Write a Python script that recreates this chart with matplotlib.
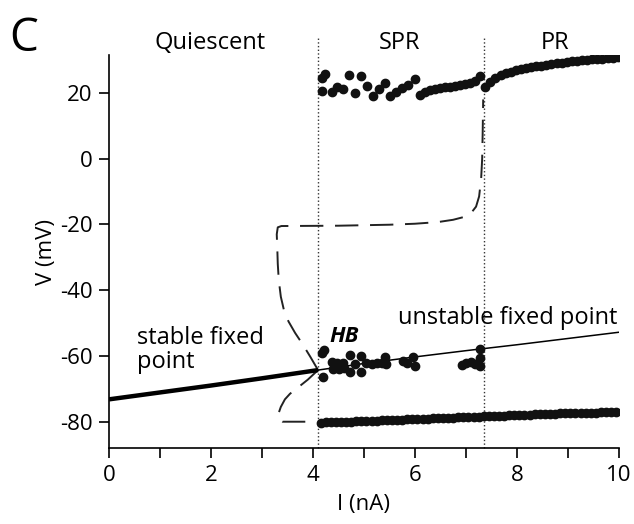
import matplotlib
matplotlib.use("Agg")
import matplotlib.pyplot as plt

plt.rcParams['font.family'] = ['Open Sans', 'DejaVu Sans']
plt.rcParams['axes.unicode_minus'] = False

# fixed point branches (I in nA, V in mV)
stable_I = [0.0, 1.0, 2.0, 3.0, 4.1]
stable_V = [-73.2, -71.1, -69.0, -66.8, -64.3]
unstable_I = [4.1, 5.0, 6.0, 7.0, 8.0, 9.0, 10.0]
unstable_V = [-64.3, -62.3, -60.3, -58.4, -56.6, -54.7, -52.8]

# unstable limit cycle (dashed), upper and lower extrema
ulc_top_I = [4.1, 3.95, 3.8, 3.65, 3.52, 3.43, 3.37, 3.33, 3.31, 3.30, 3.29, 3.31, 3.38,
             4.5, 5.5, 6.0, 6.45, 6.75, 6.95, 7.1, 7.2, 7.26, 7.3, 7.32, 7.33, 7.34]
ulc_top_V = [-64.3, -60.3, -56.5, -53.0, -49.5, -46.0, -42.0, -37.0, -32.0, -27.0, -23.0, -20.9, -20.5,
             -20.4, -20.1, -19.8, -19.3, -18.6, -17.8, -16.6, -14.6, -11.5, -6.0, 0.0, 8.0, 18.0]
ulc_bot_I = [4.1, 3.9, 3.69, 3.55, 3.45, 3.37, 3.32, 3.33, 3.4, 3.85]
ulc_bot_V = [-64.3, -67.2, -69.8, -71.5, -73.2, -75.5, -77.7, -79.3, -80.0, -80.0]

# SPR spike maxima (irregular)
spr_max_I = [4.17, 4.24, 4.17, 4.37, 4.48, 4.59, 4.71, 4.82, 4.95, 5.07, 5.18, 5.30, 5.41, 5.52,
             5.63, 5.74, 5.87, 6.00, 6.11, 6.20, 6.29, 6.39, 6.49, 6.59, 6.69, 6.78, 6.88, 6.98,
             7.08, 7.18, 7.27]
spr_max_V = [24.5, 25.8, 20.6, 20.4, 21.7, 21.1, 25.3, 19.9, 25.0, 22.1, 18.9, 21.1, 23.1, 19.1,
             20.2, 21.4, 22.4, 24.2, 19.4, 20.4, 20.9, 21.2, 21.4, 21.7, 21.9, 22.1, 22.3, 22.6,
             22.9, 23.6, 25.0]

# SPR subthreshold oscillation extrema
spr_mid_I = [4.17, 4.22, 4.20, 4.37, 4.40, 4.48, 4.52, 4.58, 4.61, 4.73, 4.73, 4.82, 4.95, 4.95,
             5.05, 5.15, 5.25, 5.35, 5.41, 5.43, 5.77, 5.85, 5.97, 6.00, 6.92, 7.01, 7.11, 7.18,
             7.27, 7.27, 7.27]
spr_mid_V = [-59.0, -58.2, -66.5, -61.7, -64.0, -62.2, -64.0, -62.0, -63.7, -59.7, -64.9, -62.4,
             -60.0, -64.8, -62.0, -62.4, -62.0, -62.2, -60.4, -62.4, -61.4, -62.2, -60.2, -63.0,
             -62.7, -62.2, -61.7, -62.4, -58.0, -60.5, -63.2]

# spike minima (SPR + PR)
low_I = [4.15, 4.25, 4.35, 4.45, 4.55, 4.65, 4.75, 4.85, 4.95, 5.05,
         5.15, 5.25, 5.35, 5.45, 5.55, 5.65, 5.75, 5.85, 5.95, 6.05,
         6.15, 6.25, 6.35, 6.45, 6.55, 6.65, 6.75, 6.85, 6.95, 7.05,
         7.15, 7.25, 7.35, 7.45, 7.55, 7.65, 7.75, 7.85, 7.95, 8.05,
         8.15, 8.25, 8.35, 8.45, 8.55, 8.65, 8.75, 8.85, 8.95, 9.05,
         9.15, 9.25, 9.35, 9.45, 9.55, 9.65, 9.75, 9.85, 9.95]
low_V = [-80.3, -80.2, -80.2, -80.1, -80.1, -80.0, -80.0, -79.9, -79.9, -79.8,
         -79.7, -79.7, -79.6, -79.6, -79.5, -79.5, -79.4, -79.3, -79.3, -79.2,
         -79.2, -79.1, -79.0, -79.0, -78.9, -78.9, -78.8, -78.7, -78.7, -78.6,
         -78.6, -78.5, -78.4, -78.4, -78.3, -78.3, -78.2, -78.1, -78.1, -78.0,
         -78.0, -77.9, -77.8, -77.8, -77.7, -77.7, -77.6, -77.5, -77.5, -77.4,
         -77.4, -77.3, -77.3, -77.2, -77.2, -77.1, -77.1, -77.0, -77.0]

# PR spike maxima
pr_I = [7.38, 7.48, 7.58, 7.68, 7.78, 7.88, 7.98, 8.08, 8.18, 8.28, 8.38, 8.48, 8.58, 8.68,
        8.78, 8.88, 8.98, 9.08, 9.18, 9.28, 9.38, 9.48, 9.58, 9.68, 9.78, 9.88, 9.98]
pr_V = [21.8, 23.4, 24.5, 25.3, 25.9, 26.4, 26.8, 27.2, 27.5, 27.8, 28.1, 28.3, 28.6, 28.8,
        29.0, 29.2, 29.4, 29.6, 29.7, 29.9, 30.0, 30.2, 30.3, 30.4, 30.6, 30.7, 30.8]

boundaries = [4.1, 7.35]
regions = ["Quiescent", "SPR", "PR"]

fig = plt.figure(figsize=(6.34, 5.24), dpi=100)
ax = fig.add_axes([0.172, 0.145, 0.804, 0.75])

for b in boundaries:
    ax.plot([b, b], [-88, 37.3], ':', color='#333333', lw=1.0, clip_on=False, zorder=1)

ax.plot(stable_I, stable_V, color='black', lw=3.2, solid_capstyle='butt', zorder=3)
ax.plot(unstable_I, unstable_V, color='black', lw=1.1, zorder=3)
ax.plot(ulc_top_I, ulc_top_V, color='#222222', lw=1.4, dashes=(12, 6), zorder=2)
ax.plot(ulc_bot_I, ulc_bot_V, color='#222222', lw=1.4, dashes=(12, 6), zorder=2)

dot = dict(marker='o', ms=6.0, color='#111111', ls='none', zorder=4)
ax.plot(spr_max_I, spr_max_V, **dot)
ax.plot(spr_mid_I, spr_mid_V, **dot)
ax.plot(low_I, low_V, **dot)
ax.plot(pr_I, pr_V, **dot)

ax.set_xlim(0, 10)
ax.set_ylim(-88, 31.5)
ax.set_xticks([0, 2, 4, 6, 8, 10])
ax.set_xticks([1, 3, 5, 7, 9], minor=True)
ax.set_yticks([-80, -60, -40, -20, 0, 20])
ax.tick_params(which='both', direction='out', length=7, width=1.2, labelsize=16, pad=5)
for s in ['top', 'right']:
    ax.spines[s].set_visible(False)
for s in ['left', 'bottom']:
    ax.spines[s].set_linewidth(1.2)

ax.set_xlabel("I (nA)", fontsize=16, labelpad=6)
ax.set_ylabel("V (mV)", fontsize=16, labelpad=2)

ax.text(0.55, -58.2, "stable fixed\npoint", fontsize=17, ha='left', va='center', linespacing=0.95)
ax.text(5.67, -48.4, "unstable fixed point", fontsize=17, ha='left', va='center')
ax.text(4.33, -54.0, "HB", fontsize=16, fontweight='bold', fontstyle='italic', ha='left', va='center')

for name, xf in zip(regions, [0.331, 0.631, 0.875]):
    fig.text(xf, 0.918, name, fontsize=17, ha='center', va='center')
fig.text(0.015, 0.925, "C", fontsize=33, ha='left', va='center')

fig.savefig("out.png", dpi=100)
